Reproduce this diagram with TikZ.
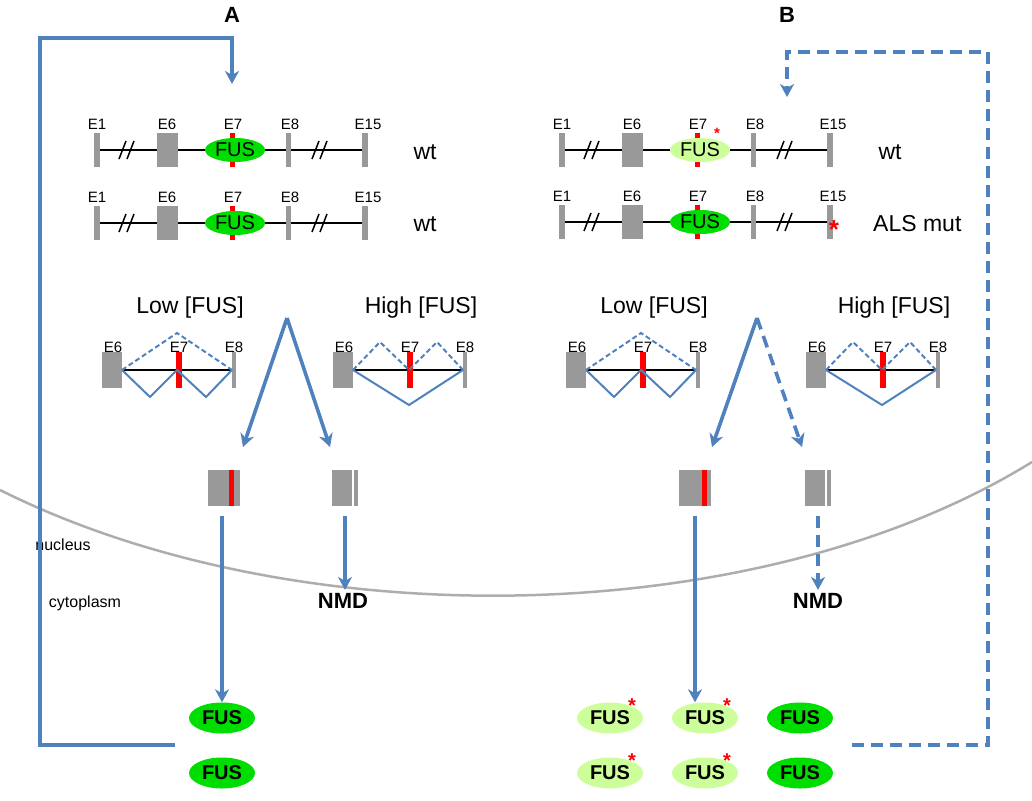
\documentclass[tikz,border=0pt]{standalone}
\usepackage{fontspec}
\setmainfont{Liberation Sans}
\usetikzlibrary{arrows, arrows.meta, shapes, positioning}
\definecolor{fblue}{HTML}{4F81BD}
\definecolor{fgray}{HTML}{999999}
\definecolor{fgreen}{HTML}{00DD00}
\definecolor{flight}{HTML}{CCFF99}
\begin{document}
\begin{tikzpicture}[x=1pt, y=-1pt, >={Stealth[length=13pt, width=14pt, inset=4pt]},
    exon/.style={fill=fgray, draw=none},
    mut/.style={fill=red, draw=none},
    flow/.style={draw=fblue, line width=3.6pt},
    dflow/.style={flow, dash pattern=on 12pt off 7pt},
    junc/.style={draw=fblue, line width=2pt},
    djunc/.style={junc, dash pattern=on 5pt off 3pt},
    gline/.style={line width=1.5pt},
    lab/.style={font=\fontsize{15}{15}\selectfont, inner sep=0pt},
    big/.style={font=\fontsize{23}{23}\selectfont, inner sep=0pt},
    fus/.style={ellipse, draw=none, minimum width=60pt, minimum height=24pt, inner sep=0pt, font=\fontsize{20}{20}\selectfont},
    fusc/.style={ellipse, draw=none, fill=fgreen, minimum width=66pt, minimum height=31pt, inner sep=0pt, font=\bfseries\fontsize{20}{20}\selectfont},
    star/.style={text=red, inner sep=0pt, font=\bfseries\fontsize{20}{20}\selectfont}]
    \useasboundingbox (0,0) rectangle (1032,800);

    \node[font=\bfseries\fontsize{22}{22}\selectfont] (A) at (232,15) {A};
    \node[font=\bfseries\fontsize{22}{22}\selectfont] (B) at (787,15) {B};

    % Gene rows
    \foreach \y/\x/\c/\n in {150/0/fgreen/a1, 223/0/fgreen/a2, 150/465/flight/b1, 222/465/fgreen/b2}{
        \draw[gline] (100+\x,\y) -- (362+\x,\y);
        \draw[gline] (119+\x,\y+9) -- (126+\x,\y-9) (127+\x,\y+9) -- (134+\x,\y-9);
        \draw[gline] (312+\x,\y+9) -- (319+\x,\y-9) (320+\x,\y+9) -- (327+\x,\y-9);
        \fill[exon] (94+\x,\y-17) rectangle (100+\x,\y+17);
        \fill[exon] (157+\x,\y-17) rectangle (178+\x,\y+17);
        \fill[exon] (286+\x,\y-17) rectangle (291+\x,\y+17);
        \fill[exon] (362+\x,\y-17) rectangle (368+\x,\y+17);
        \fill[mut] (230+\x,\y-17) rectangle (235+\x,\y+17);
        \node[fus, fill=\c] (\n) at (235+\x,\y) {FUS};
        \node[lab] at (97+\x,\y-26) {E1};
        \node[lab] at (167+\x,\y-26) {E6};
        \node[lab] at (233+\x,\y-26) {E7};
        \node[lab] at (290+\x,\y-26) {E8};
        \node[lab] at (368+\x,\y-26) {E15};
    }
    \node[big] (wta1) at (425,152) {wt};
    \node[big] (wta2) at (425,224) {wt};
    \node[big] (wtb1) at (890,152) {wt};
    \node[big, anchor=west] (als) at (873,224) {ALS mut};
    \node[star, font=\bfseries\fontsize{15}{15}\selectfont] (sb1) at (717,133) {*};
    \node[star, font=\bfseries\fontsize{26}{26}\selectfont] (sb2) at (834,230) {*};

    % Splicing patterns
    \foreach \x/\t in {102/Low, 333/High, 566/Low, 806/High}{
        \node[big] at (\x+88,308) {\t{} [FUS]};
        \fill[exon] (\x,352) rectangle (\x+20,388);
        \fill[exon] (\x+130,352) rectangle (\x+134,388);
        \draw[gline] (\x+20,370) -- (\x+130,370);
        \fill[mut] (\x+74,352) rectangle (\x+80,388);
        \node[lab] at (\x+11,347) {E6};
        \node[lab] at (\x+77,347) {E7};
        \node[lab] at (\x+132,347) {E8};
    }
    \foreach \x in {102,566}{
        \draw[djunc] (\x+20,370) -- (\x+75,333) -- (\x+130,370);
        \draw[junc] (\x+20,370) -- (\x+48,397) -- (\x+75,370) -- (\x+104,397) -- (\x+130,370);
    }
    \foreach \x in {333,806}{
        \draw[djunc] (\x+20,370) -- (\x+47,342) -- (\x+76,370) -- (\x+104,342) -- (\x+130,370);
        \draw[junc] (\x+20,370) -- (\x+76,405) -- (\x+130,370);
    }

    % mRNAs
    \coordinate (apa) at (287,318);
    \coordinate (apb) at (757,318);
    \node[exon, minimum width=32pt, minimum height=36pt, inner sep=0pt] (ma) at (224,488) {};
    \fill[mut] (229,470) rectangle (234,506);
    \node[exon, minimum width=26pt, minimum height=36pt, inner sep=0pt] (na) at (345,488) {};
    \draw[white, line width=1.5pt] (353,470) -- (353,506);
    \node[exon, minimum width=32pt, minimum height=36pt, inner sep=0pt] (mb) at (695,488) {};
    \fill[mut] (702,470) rectangle (707,506);
    \node[exon, minimum width=26pt, minimum height=36pt, inner sep=0pt] (nb) at (818,488) {};
    \draw[white, line width=1.5pt] (826,470) -- (826,506);

    \draw[flow, ->] (apa) -- (243,447);
    \draw[flow, ->] (apa) -- (330,447);
    \draw[flow, ->] (apb) -- (712,447);
    \draw[dflow, ->] (apb) -- (802,447);

    % Nucleus border
    \draw[fgray!80, line width=2.5pt] (0,490) .. controls (300,640) and (760,630) .. (1032,462);
    \node[font=\fontsize{16}{16}\selectfont] (nuc) at (63,545) {nucleus};
    \node[font=\fontsize{16}{16}\selectfont] (cyt) at (85,603) {cytoplasm};

    \node[font=\bfseries\fontsize{22}{22}\selectfont] (nmda) at (343,601) {NMD};
    \node[font=\bfseries\fontsize{22}{22}\selectfont] (nmdb) at (818,601) {NMD};

    % Proteins
    \node[fusc] (pa1) at (222,718) {FUS};
    \node[fusc] (pa2) at (222,773) {FUS};
    \foreach \x/\n in {610/1, 705/2}{
        \node[fusc, fill=flight] (pb\n u) at (\x,718) {FUS};
        \node[fusc, fill=flight] (pb\n d) at (\x,773) {FUS};
        \node[star] at (\x+22,706) {*};
        \node[star] at (\x+22,761) {*};
    }
    \node[fusc] (pb3u) at (800,718) {FUS};
    \node[fusc] (pb3d) at (800,773) {FUS};

    \draw[flow, ->] (222,516) -- (pa1.north);
    \draw[flow, ->] (na.south |- 0,516) -- (nmda.north -| na.south);
    \draw[flow, ->] (mb.south |- 0,516) -- (pb2u.north -| mb.south);
    \draw[dflow, ->] (nb.south |- 0,516) -- (nmdb.north);

    % Feedback loops
    \coordinate (fa) at (232,84);
    \coordinate (fb) at (787,97);
    \draw[flow, ->] (175,745) -- (40,745) -- (40,38) -| (fa);
    \draw[dflow, ->] (852,745) -- (988,745) -- (988,52) -| (fb);
\end{tikzpicture}
\end{document}
